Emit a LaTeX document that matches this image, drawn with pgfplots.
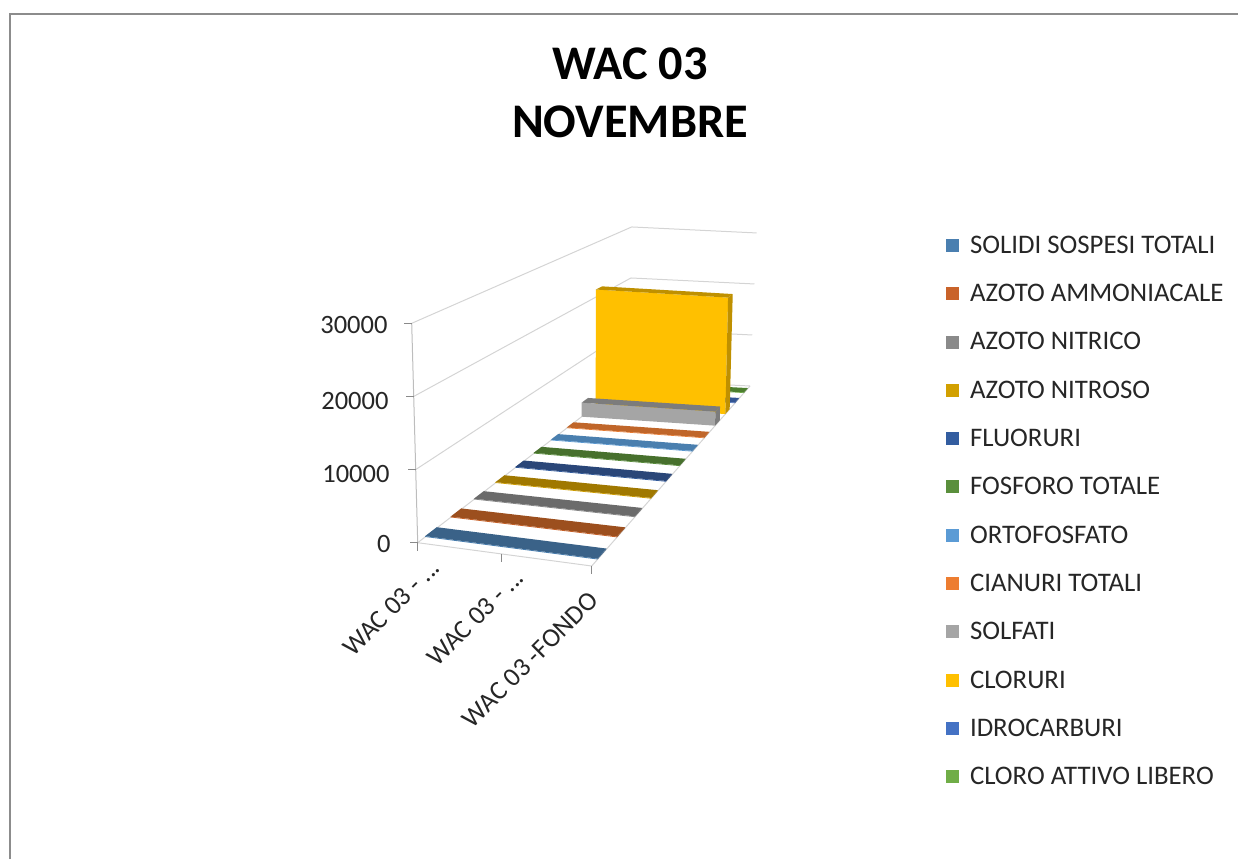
\documentclass[border=0pt]{standalone}
\usepackage{fontspec}
\setmainfont{Carlito}
\usepackage{pgfplots}
\pgfplotsset{compat=1.18}
% colours: front = legend colour, top and side = the darker shaded faces
\definecolor{fA}{HTML}{4A7FB0}\definecolor{tA}{HTML}{3A6288}
\definecolor{fB}{HTML}{C9632A}\definecolor{tB}{HTML}{9C4F1E}
\definecolor{fC}{HTML}{8A8A8A}\definecolor{tC}{HTML}{6B6B6B}
\definecolor{fD}{HTML}{D2A000}\definecolor{tD}{HTML}{A07800}
\definecolor{fE}{HTML}{335DA0}\definecolor{tE}{HTML}{2A4678}
\definecolor{fF}{HTML}{5A8F3C}\definecolor{tF}{HTML}{47702D}
\definecolor{fG}{HTML}{5B9BD5}\definecolor{tG}{HTML}{4A7FAF}
\definecolor{fH}{HTML}{ED7D31}\definecolor{tH}{HTML}{C0662A}
\definecolor{fI}{HTML}{A5A5A5}\definecolor{tI}{HTML}{7C7C7C}
\definecolor{fJ}{HTML}{FFC000}\definecolor{tJ}{HTML}{BF9000}
\definecolor{fK}{HTML}{4472C4}\definecolor{tK}{HTML}{335593}
\definecolor{fL}{HTML}{70AD47}\definecolor{tL}{HTML}{4C7E2E}
\definecolor{wallgrey}{HTML}{D4D4D4}
\definecolor{axisgrey}{HTML}{BDBDBD}
\definecolor{tickgrey}{HTML}{8A8A8A}
\definecolor{framegrey}{HTML}{8C8C8C}
\definecolor{labelink}{HTML}{262626}

% #1 series position (0..11), #2 value, #3 front colour, #4 top colour, #5 legend text
\newcommand{\seriesbar}[5]{%
  \addplot[fill=#3,draw=none] table[row sep=\\,
     x expr={pX(\thisrow{u},(#1+0.5)/12+\thisrow{d}*0.0185,\thisrow{t}*#2/30000)},
     y expr={pY(\thisrow{u},(#1+0.5)/12+\thisrow{d}*0.0185,\thisrow{t}*#2/30000)}]
     {u d t\\ 0 -1 0\\ 1 -1 0\\ 1 -1 1\\ 0 -1 1\\};
  \addlegendentry{#5}
  \addplot[fill=#4,draw=none,forget plot] table[row sep=\\,
     x expr={pX(\thisrow{u},(#1+0.5)/12+\thisrow{d}*0.0185,\thisrow{t}*#2/30000)},
     y expr={pY(\thisrow{u},(#1+0.5)/12+\thisrow{d}*0.0185,\thisrow{t}*#2/30000)}]
     {u d t\\ 0 -1 1\\ 1 -1 1\\ 1 1 1\\ 0 1 1\\};
  \addplot[fill=#4,draw=none,forget plot] table[row sep=\\,
     x expr={pX(\thisrow{u},(#1+0.5)/12+\thisrow{d}*0.0185,\thisrow{t}*#2/30000)},
     y expr={pY(\thisrow{u},(#1+0.5)/12+\thisrow{d}*0.0185,\thisrow{t}*#2/30000)}]
     {u d t\\ 1 -1 0\\ 1 1 0\\ 1 1 1\\ 1 -1 1\\};
}
% one grid level on the two walls
\newcommand{\wallline}[1]{%
  \addplot[wallgrey,line width=1pt,forget plot] table[row sep=\\,
     x expr={pX(\thisrow{u},\thisrow{v},#1/30000)},
     y expr={pY(\thisrow{u},\thisrow{v},#1/30000)}]
     {u v\\ 0 0\\ 0 1\\ 1 1\\};
}
\newcommand{\ztick}[1]{%
  \addplot[tickgrey,line width=1pt,forget plot] table[row sep=\\,
     x expr={pX(0,0,#1/30000)-\thisrow{o}},
     y expr={pY(0,0,#1/30000)}]
     {o\\ 0\\ 8\\};
}
\newcommand{\xtickmark}[1]{%
  \addplot[tickgrey,line width=1pt,forget plot] table[row sep=\\,
     x expr={pX(#1,0,0)},
     y expr={pY(#1,0,0)+\thisrow{o}}]
     {o\\ 0\\ 8\\};
}

\begin{document}
\begin{tikzpicture}[declare function={
    dF(\a,\b)=1-0.07794*\a+0.54509*\b;
    dH(\b)=1+0.54509*\b;
    pX(\a,\b,\c)=(417.7+127.88*\a+554.78*\b)/dF(\a,\b)+\c*(-6+8.3*\b+4.4*\a*\b);
    pY(\a,\b,\c)=(542.7-20.81*\a+44.43*\b)/dF(\a,\b)-\c*219.4/(dH(\b)^0.828);
  }]
\useasboundingbox (0,0) rectangle (1238pt,859pt);
\begin{axis}[
  at={(0,0)},anchor=south west,
  scale only axis,width=1238pt,height=859pt,
  xmin=0,xmax=1238,ymin=0,ymax=859,y dir=reverse,
  hide axis,clip=false,no markers,
  reverse legend,
  legend cell align=left,
  legend image code/.code={\fill[#1] (0pt,-6.5pt) rectangle (13pt,6.5pt);},
  legend style={at={(946/1238,1-234/859)},anchor=north west,draw=none,fill=none,
    inner sep=0pt,outer sep=0pt,font=\fontsize{26.8}{30}\selectfont\color{labelink},
    row sep=25.4pt,
    /tikz/every odd column/.append style={column sep=9pt}},
]
% chart frame
\addplot[framegrey,line width=1.5pt,forget plot] coordinates {(10,859) (10,14) (1238,14)};
% walls
\wallline{0}\wallline{10000}\wallline{20000}\wallline{30000}
% floor
\addplot[wallgrey,line width=1pt,forget plot] table[row sep=\\,
   x expr={pX(\thisrow{u},\thisrow{v},0)},y expr={pY(\thisrow{u},\thisrow{v},0)}]
   {u v\\ 0 0\\ 1 0\\ 1 1\\};
% value axis
\addplot[axisgrey,line width=1pt,forget plot] table[row sep=\\,
   x expr={pX(0,0,\thisrow{w}/30000)},y expr={pY(0,0,\thisrow{w}/30000)}]
   {w\\ 0\\ 30000\\};
\ztick{0}\ztick{10000}\ztick{20000}\ztick{30000}
\xtickmark{0}\xtickmark{0.5}\xtickmark{1}
% series, back to front
\seriesbar{11}{120}{fL}{tL}{CLORO ATTIVO LIBERO}
\seriesbar{10}{120}{fK}{tK}{IDROCARBURI}
\seriesbar{9}{21300}{fJ}{tJ}{CLORURI}
\seriesbar{8}{2500}{fI}{tI}{SOLFATI}
\seriesbar{7}{120}{fH}{tH}{CIANURI TOTALI}
\seriesbar{6}{120}{fG}{tG}{ORTOFOSFATO}
\seriesbar{5}{120}{fF}{tF}{FOSFORO TOTALE}
\seriesbar{4}{120}{fE}{tE}{FLUORURI}
\seriesbar{3}{120}{fD}{tD}{AZOTO NITROSO}
\seriesbar{2}{120}{fC}{tC}{AZOTO NITRICO}
\seriesbar{1}{120}{fB}{tB}{AZOTO AMMONIACALE}
\seriesbar{0}{120}{fA}{tA}{SOLIDI SOSPESI TOTALI}
% value labels
\node[anchor=east,text=labelink,font=\fontsize{26.5}{30}\selectfont] at (axis cs:394,544) {0};
\node[anchor=east,text=labelink,font=\fontsize{26.5}{30}\selectfont] at (axis cs:393,474) {10000};
\node[anchor=east,text=labelink,font=\fontsize{26.5}{30}\selectfont] at (axis cs:392,401) {20000};
\node[anchor=east,text=labelink,font=\fontsize{26.5}{30}\selectfont] at (axis cs:391,325) {30000};
% category labels
\node[anchor=east,rotate=45,text=labelink,font=\fontsize{26.5}{30}\selectfont] at (axis cs:438,561) {WAC 03 - ...};
\node[anchor=east,rotate=45,text=labelink,font=\fontsize{26.5}{30}\selectfont] at (axis cs:522,571) {WAC 03 - ...};
\node[anchor=east,rotate=45,text=labelink,font=\fontsize{26.5}{30}\selectfont] at (axis cs:596,594) {WAC 03 -FONDO};
% title
\node[align=center,text=black,font=\fontsize{48.3}{58}\selectfont\bfseries] at (axis cs:630,93) {WAC 03\\NOVEMBRE};
\end{axis}
\end{tikzpicture}
\end{document}
